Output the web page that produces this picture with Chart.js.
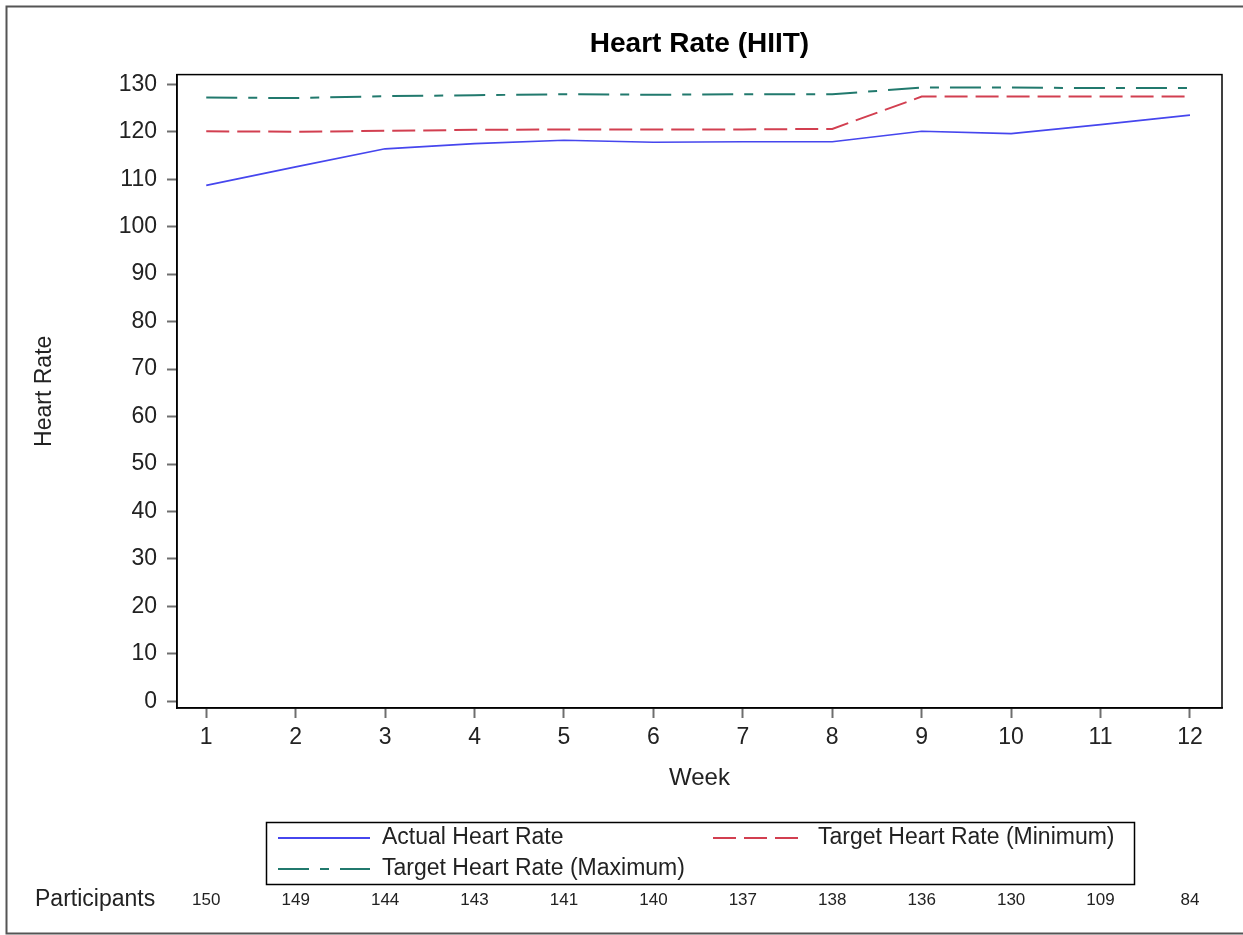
<!DOCTYPE html>
<html>
<head>
<meta charset="utf-8">
<script src="https://cdn.jsdelivr.net/npm/chart.js@4"></script>
<style>
  html, body { margin: 0; padding: 0; background: #fff; }
  #wrap { width: 1243px; height: 935px; }
</style>
</head>
<body>
<div id="wrap"><canvas id="c" width="1243" height="935"></canvas></div>
<script>
// ---- data ----
const weeks = [1, 2, 3, 4, 5, 6, 7, 8, 9, 10, 11, 12];
const actualHR = [108.7, 112.6, 116.4, 117.5, 118.2, 117.8, 117.9, 117.9, 120.1, 119.6, 121.5, 123.5];
const targetMin = [120.1, 120.0, 120.2, 120.4, 120.5, 120.5, 120.5, 120.6, 127.4, 127.4, 127.4, 127.4];
const targetMax = [127.2, 127.1, 127.5, 127.7, 127.9, 127.8, 127.9, 127.9, 129.3, 129.3, 129.2, 129.2];
const participants = [150, 149, 144, 143, 141, 140, 137, 138, 136, 130, 109, 84];
const yTickValues = [0, 10, 20, 30, 40, 50, 60, 70, 80, 90, 100, 110, 120, 130];
const seriesNames = ['Actual Heart Rate', 'Target Heart Rate (Minimum)', 'Target Heart Rate (Maximum)'];

const FONT = '"Liberation Sans", Arial, sans-serif';
const C_BLUE = '#4646ee';
const C_RED = '#d23f50';
const C_TEAL = '#21796d';
const DASH_RED = [23, 8];
const DASH_TEAL = [31, 11, 9, 11];

const toPts = (vals) => weeks.map((w, i) => ({ x: w, y: vals[i] }));

const decor = {
  id: 'decor',
  afterDraw(chart) {
    const ctx = chart.ctx;
    const a = chart.chartArea;
    ctx.save();
    // plot frame
    ctx.strokeStyle = '#000';
    ctx.lineWidth = 1.5;
    ctx.setLineDash([]);
    ctx.strokeRect(a.left, a.top, a.right - a.left, a.bottom - a.top);

    // outer border (left, top, bottom)
    ctx.strokeStyle = '#555';
    ctx.lineWidth = 2;
    ctx.beginPath();
    ctx.moveTo(1243, 6.5); ctx.lineTo(6.5, 6.5); ctx.lineTo(6.5, 933.5); ctx.lineTo(1243, 933.5);
    ctx.stroke();

    // legend box
    ctx.strokeStyle = '#000';
    ctx.lineWidth = 1.5;
    ctx.strokeRect(266.5, 822.5, 868, 62);

    const sample = (x1, x2, y, color, dash, w) => {
      ctx.beginPath();
      ctx.strokeStyle = color;
      ctx.lineWidth = w;
      ctx.setLineDash(dash);
      ctx.moveTo(x1, y); ctx.lineTo(x2, y);
      ctx.stroke();
      ctx.setLineDash([]);
    };
    sample(278, 370, 838, C_BLUE, [], 1.8);
    sample(713, 798, 838, C_RED, DASH_RED, 2);
    sample(278, 370, 869, C_TEAL, DASH_TEAL, 2);

    ctx.fillStyle = '#222';
    ctx.font = '23px ' + FONT;
    ctx.textAlign = 'left';
    ctx.textBaseline = 'middle';
    ctx.fillText(seriesNames[0], 382, 838);
    ctx.fillText(seriesNames[1], 818, 838);
    ctx.fillText(seriesNames[2], 382, 869);

    // participants row
    ctx.font = '23px ' + FONT;
    ctx.fillText('Participants', 35, 900);
    ctx.font = '17px ' + FONT;
    ctx.textAlign = 'center';
    const xs = chart.scales.x;
    weeks.forEach((w, i) => {
      ctx.fillText(String(participants[i]), xs.getPixelForValue(w), 900);
    });
    ctx.restore();
  }
};

new Chart(document.getElementById('c'), {
  type: 'line',
  data: {
    datasets: [
      { label: seriesNames[0], data: toPts(actualHR), borderColor: C_BLUE, borderWidth: 1.6, pointRadius: 0, tension: 0, fill: false },
      { label: seriesNames[1], data: toPts(targetMin), borderColor: C_RED, borderWidth: 2, borderDash: DASH_RED, pointRadius: 0, tension: 0, fill: false },
      { label: seriesNames[2], data: toPts(targetMax), borderColor: C_TEAL, borderWidth: 2, borderDash: DASH_TEAL, pointRadius: 0, tension: 0, fill: false }
    ]
  },
  options: {
    responsive: false,
    animation: false,
    layout: { padding: { left: 0, top: 0, right: 21, bottom: 127 } },
    plugins: {
      legend: { display: false },
      tooltip: { enabled: false },
      title: {
        display: true,
        text: 'Heart Rate (HIIT)',
        fullSize: false,
        color: '#000',
        font: { family: FONT, size: 28, weight: 'bold' },
        padding: { top: 27, bottom: 14 }
      }
    },
    scales: {
      x: {
        type: 'linear',
        min: 0.673,
        max: 12.358,
        afterBuildTicks: (s) => { s.ticks = weeks.map(v => ({ value: v })); },
        afterFit: (s) => { s.height = 100; },
        ticks: { color: '#222', font: { family: FONT, size: 23 }, padding: 6, autoSkip: false, maxRotation: 0, callback: (v) => String(v) },
        grid: { drawOnChartArea: false, drawTicks: true, tickLength: 10, tickColor: '#6e6e6e', tickWidth: 2 },
        border: { display: true, color: '#000', width: 1.5 },
        title: { display: true, text: 'Week', color: '#222', font: { family: FONT, size: 24 }, padding: { top: 0, bottom: 15 } }
      },
      y: {
        type: 'linear',
        min: -1.4,
        max: 132.04,
        afterBuildTicks: (s) => { s.ticks = yTickValues.map(v => ({ value: v })); },
        afterFit: (s) => { s.width = 177; },
        ticks: { color: '#222', font: { family: FONT, size: 23 }, padding: 10, callback: (v) => String(v) },
        grid: { drawOnChartArea: false, drawTicks: true, tickLength: 10, tickColor: '#6e6e6e', tickWidth: 2 },
        border: { display: true, color: '#000', width: 1.5 },
        title: { display: true, text: 'Heart Rate', color: '#222', font: { family: FONT, size: 23 }, padding: { top: 31, bottom: 0 } }
      }
    }
  },
  plugins: [decor]
});
</script>
</body>
</html>
